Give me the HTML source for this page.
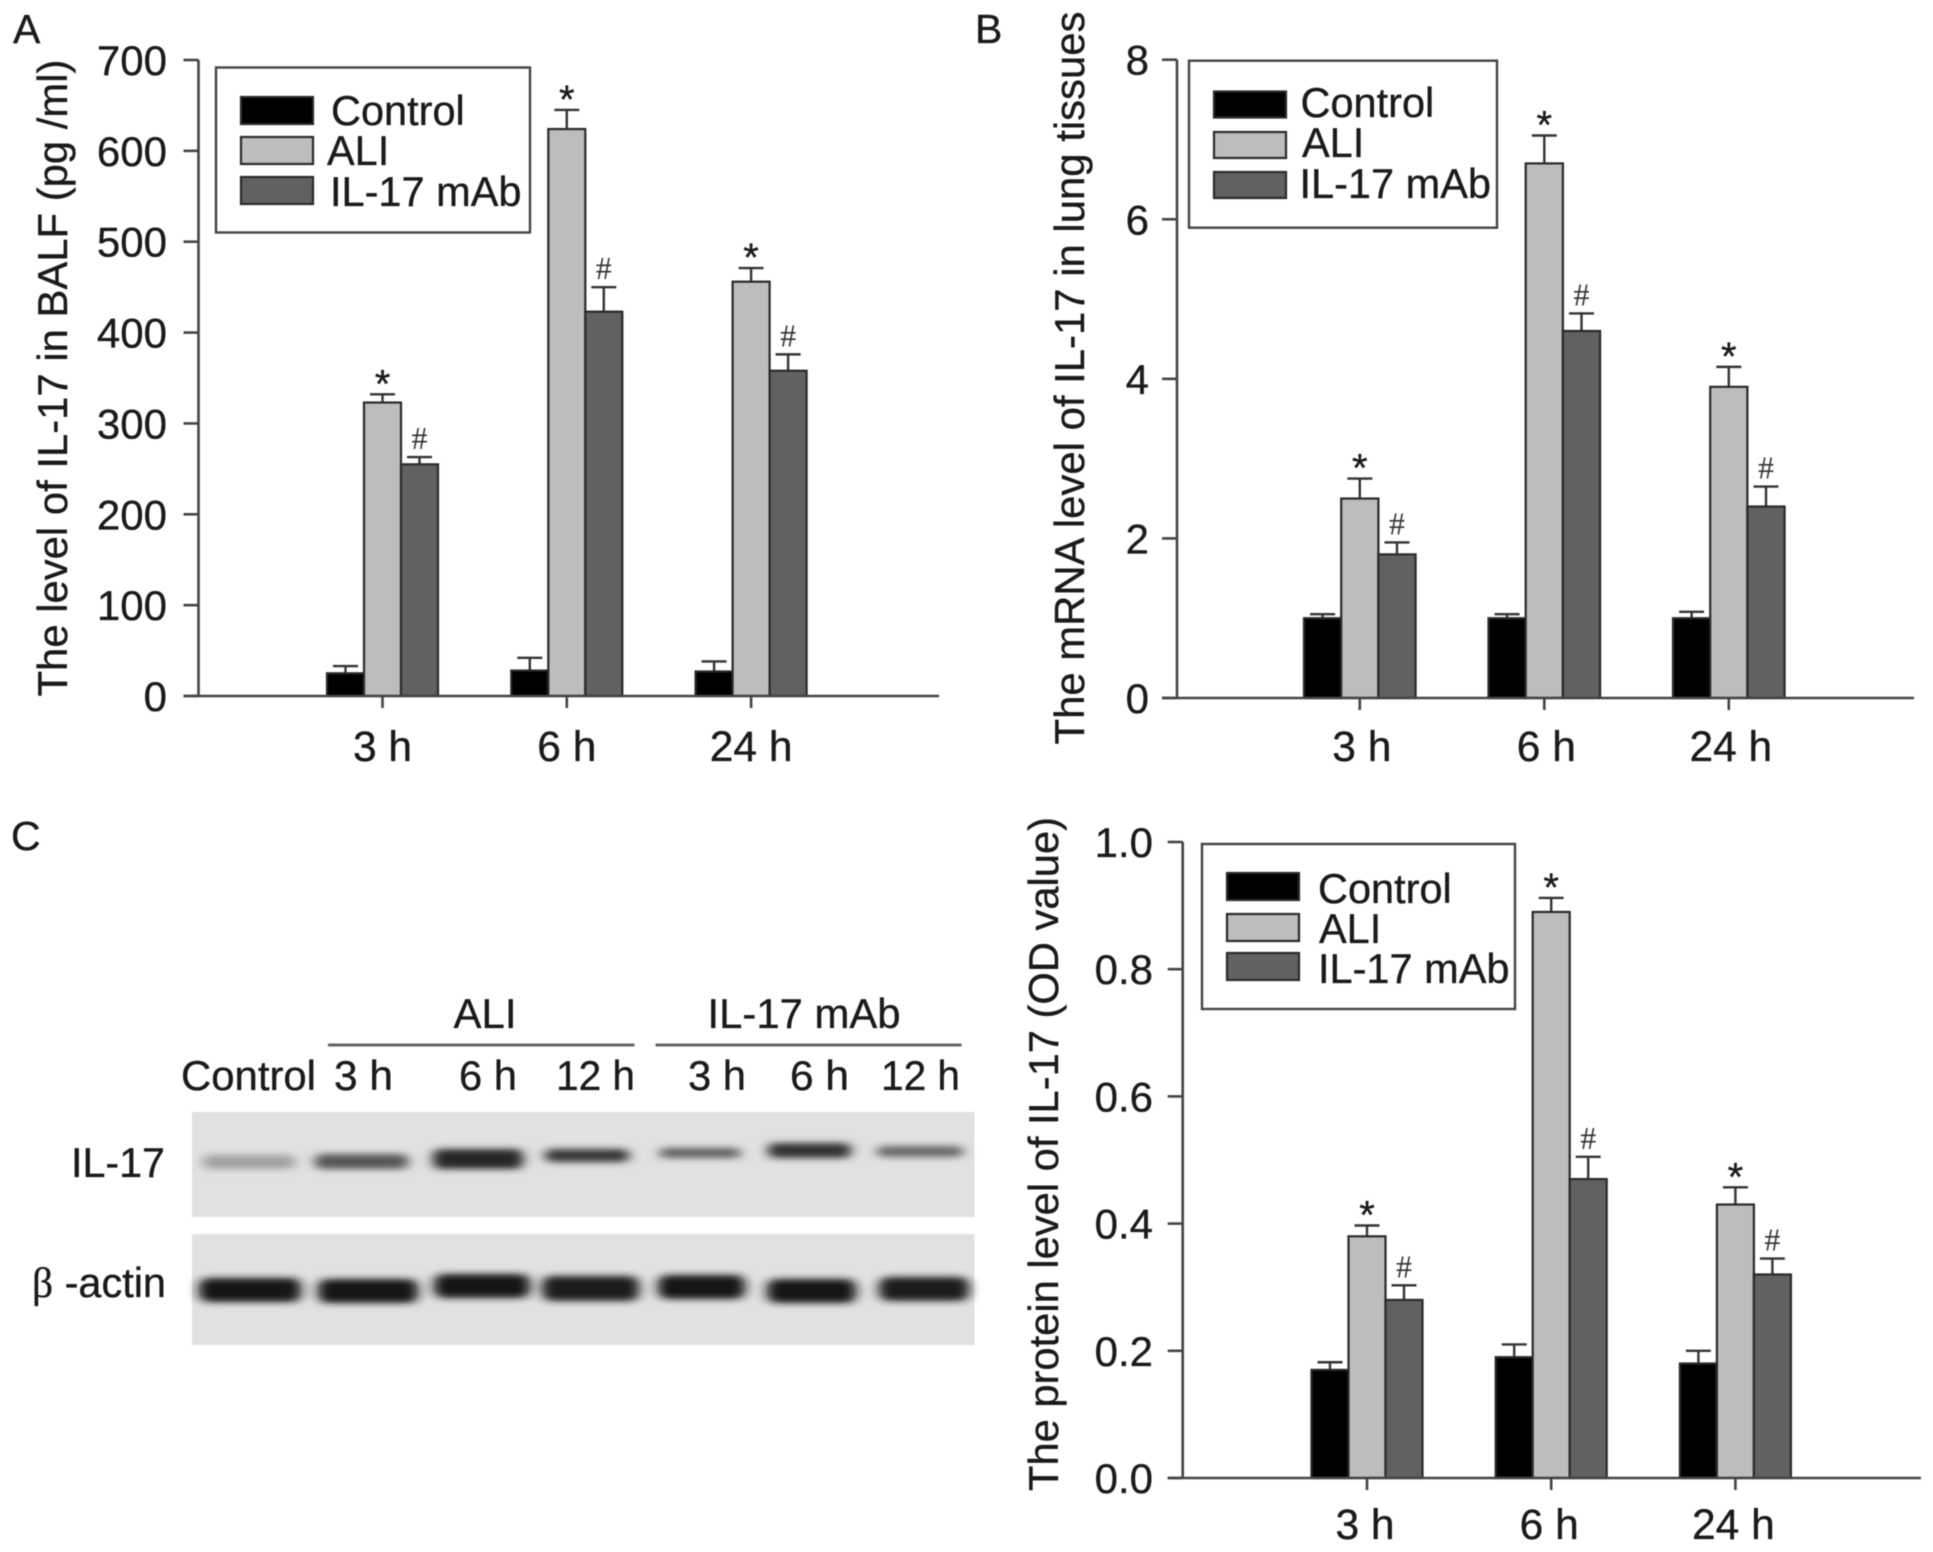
<!DOCTYPE html>
<html lang="en">
<head>
<meta charset="utf-8">
<title>IL-17 levels in BALF, lung mRNA and protein</title>
<style>
html,body{margin:0;padding:0;background:#fff;}
#figure{display:block;width:1933px;height:1552px;filter:blur(0.5px);}
text{font-family:"Liberation Sans",sans-serif;fill:#1a1a1a;stroke:#1a1a1a;stroke-width:0.35px;}
</style>
</head>
<body>
<svg id="figure" xmlns="http://www.w3.org/2000/svg" width="1933" height="1552" viewBox="0 0 1933 1552">
  <defs>
    <filter id="blur-wide" x="-30%" y="-100%" width="160%" height="300%"><feGaussianBlur stdDeviation="6 3.5"/></filter>
  </defs>
  <text x="13" y="43" font-size="41">A</text>
  <text x="975" y="43" font-size="41">B</text>
  <text x="11" y="850" font-size="41">C</text>

  <g>
    <text x="485" y="1028" font-size="42" text-anchor="middle" textLength="63" lengthAdjust="spacingAndGlyphs">ALI</text>
    <text x="804" y="1028" font-size="42" text-anchor="middle" textLength="193" lengthAdjust="spacingAndGlyphs">IL-17 mAb</text>
    <rect x="328" y="1043.5" width="306.500" height="3" fill="#666"/>
    <rect x="655.5" y="1043.500" width="306" height="3" fill="#666"/>
    <text x="181" y="1090" font-size="42" textLength="135" lengthAdjust="spacingAndGlyphs">Control</text>
    <text x="334" y="1090" font-size="42" textLength="59" lengthAdjust="spacingAndGlyphs">3 h</text>
    <text x="459" y="1090" font-size="42" textLength="58" lengthAdjust="spacingAndGlyphs">6 h</text>
    <text x="556" y="1090" font-size="42" textLength="79" lengthAdjust="spacingAndGlyphs">12 h</text>
    <text x="688" y="1090" font-size="42" textLength="58" lengthAdjust="spacingAndGlyphs">3 h</text>
    <text x="790" y="1090" font-size="42" textLength="59" lengthAdjust="spacingAndGlyphs">6 h</text>
    <text x="881" y="1090" font-size="42" textLength="79" lengthAdjust="spacingAndGlyphs">12 h</text>
    <text x="71" y="1177" font-size="42" textLength="94" lengthAdjust="spacingAndGlyphs">IL-17</text>
    <text x="32" y="1297" font-size="42" textLength="134" lengthAdjust="spacingAndGlyphs"><tspan font-family="Liberation Serif, serif">β</tspan> -actin</text>

    <rect x="192" y="1112" width="782.500" height="105" fill="#e1e1e1"/>
    <g filter="url(#blur-wide)">
      <rect x="203" y="1155" width="92" height="14" rx="6" fill="#a0a0a0"/>
      <rect x="315" y="1154" width="93" height="15" rx="6" fill="#555"/>
      <rect x="433" y="1149" width="90" height="20" rx="7" fill="#262626"/>
      <rect x="545" y="1149" width="84" height="13" rx="6" fill="#363636"/>
      <rect x="660" y="1148" width="80" height="10" rx="4" fill="#5e5e5e"/>
      <rect x="768" y="1143" width="83" height="15" rx="6" fill="#323232"/>
      <rect x="877" y="1146" width="86" height="11" rx="5" fill="#666"/>
    </g>
    <rect x="192" y="1234" width="782.500" height="111" fill="#e1e1e1"/>
    <g filter="url(#blur-wide)">
      <rect x="199" y="1278" width="102" height="24" rx="9" fill="#181818"/>
      <rect x="318" y="1279" width="100" height="24" rx="9" fill="#181818"/>
      <rect x="434" y="1274" width="96" height="24" rx="9" fill="#181818"/>
      <rect x="542" y="1276" width="97" height="25" rx="9" fill="#1e1e1e"/>
      <rect x="658" y="1275" width="87" height="24" rx="9" fill="#181818"/>
      <rect x="767" y="1279" width="89" height="24" rx="9" fill="#181818"/>
      <rect x="879" y="1277" width="90" height="24" rx="9" fill="#1e1e1e"/>
    </g>
  </g>
</svg>

<script>
// Shared categories and series
const categories = ['3 h', '6 h', '24 h'];
const seriesNames = ['Control', 'ALI', 'IL-17 mAb'];

// Panel A values: IL-17 in BALF (pg/ml)
const balfTicks = [0, 100, 200, 300, 400, 500, 600, 700];
const balfTickLabels = ['0', '100', '200', '300', '400', '500', '600', '700'];
const balfControl = [25, 28, 27];
const balfAli = [323, 624, 456];
const balfMab = [255, 423, 358];
const balfControlErr = [8, 14, 11];
const balfAliErr = [9, 21, 15];
const balfMabErr = [8, 27, 18];

// Panel B values: IL-17 mRNA level
const mrnaTicks = [0, 2, 4, 6, 8];
const mrnaTickLabels = ['0', '2', '4', '6', '8'];
const mrnaControl = [1, 1, 1];
const mrnaAli = [2.5, 6.7, 3.9];
const mrnaMab = [1.8, 4.6, 2.4];
const mrnaControlErr = [0.05, 0.05, 0.08];
const mrnaAliErr = [0.25, 0.35, 0.25];
const mrnaMabErr = [0.15, 0.22, 0.25];

// Panel C values: IL-17 protein (OD value)
const proteinTicks = [0, 0.2, 0.4, 0.6, 0.8, 1];
const proteinTickLabels = ['0.0', '0.2', '0.4', '0.6', '0.8', '1.0'];
const proteinControl = [0.17, 0.19, 0.18];
const proteinAli = [0.38, 0.89, 0.43];
const proteinMab = [0.28, 0.47, 0.32];
const proteinControlErr = [0.012, 0.02, 0.02];
const proteinAliErr = [0.017, 0.022, 0.027];
const proteinMabErr = [0.023, 0.035, 0.025];

const SVG_NS = 'http://www.w3.org/2000/svg';
const root = document.getElementById('figure');
const fills = ['#000000', '#bdbdbd', '#616161'];
const marks = ['', '*', '#'];

function mk(tag, attrs, parent, txt) {
  const el = document.createElementNS(SVG_NS, tag);
  for (const k in attrs) el.setAttribute(k, attrs[k]);
  if (txt !== undefined) el.textContent = txt;
  parent.appendChild(el);
  return el;
}

function drawPanel(cfg) {
  const g = mk('g', {}, root);
  
  

  const yScale = v => cfg.y0 - (v / cfg.max) * (cfg.y0 - cfg.yTop);
  const xBand = i => cfg.c0 + i * cfg.step;
  const axisStyle = { stroke: '#444', 'stroke-width': 2.6, fill: 'none' };

  // y axis
  const yAxis = mk('line', Object.assign({ x1: cfg.x0, x2: cfg.x0, y1: yScale(cfg.max), y2: cfg.y0 }, axisStyle), g);
  
  
  cfg.ticks.forEach((t, i) => {
    const tick = mk('line', Object.assign({ x1: cfg.x0 - 15, x2: cfg.x0, y1: yScale(t), y2: yScale(t) }, axisStyle), g);
    
    
    const lab = mk('text', { x: cfg.labelRight, y: yScale(t) + 15, 'font-size': 42, 'text-anchor': 'end' }, g, cfg.tickLabels[i]);
    
    
  });

  // bars with error bars and significance marks
  const bw = cfg.barWidth;
  cfg.series.forEach((vals, s) => {
    vals.forEach((v, i) => {
      const x = xBand(i) + (s - 1.5) * bw;
      const top = yScale(v + cfg.errs[s][i]);
      const cx = x + bw / 2;
      const stem = mk('line', { x1: cx, x2: cx, y1: yScale(v), y2: top, stroke: '#333', 'stroke-width': 2.4 }, g);
      
      
      const cap = mk('line', { x1: cx - 12.5, x2: cx + 12.5, y1: top, y2: top, stroke: '#333', 'stroke-width': 2.4 }, g);
      
      
      const bar = mk('rect', { x: x, y: yScale(v), width: bw, height: cfg.y0 - yScale(v), fill: fills[s], stroke: '#2a2a2a', 'stroke-width': 2.2 }, g);
      
      
      if (s === 1) {
        const star = mk('text', { x: cx, y: top + 3, 'font-size': 40, 'text-anchor': 'middle' }, g, marks[s]);
        
        
      }
      if (s === 2) {
        const hash = mk('text', { x: cx, y: top - 8, 'font-size': 32, 'text-anchor': 'middle', style: 'font-family:"Liberation Serif",serif;fill:#333;stroke:none' }, g, marks[s]);
        
        
      }
    });
  });

  // x axis
  const xAxis = mk('line', Object.assign({ x1: cfg.x0 - 15, x2: cfg.xEnd, y1: cfg.y0, y2: cfg.y0 }, axisStyle), g);
  
  
  categories.forEach((c, i) => {
    const tick = mk('line', Object.assign({ x1: xBand(i), x2: xBand(i), y1: cfg.y0, y2: cfg.y0 + 12 }, axisStyle), g);
    
    
    const lab = mk('text', { x: xBand(i) + cfg.labelShift, y: cfg.xLabelY, 'font-size': 42.5, 'text-anchor': 'middle' }, g, c);
    
    
  });

  // axis title
  const title = mk('text', {
    transform: 'translate(' + cfg.titleX + ',' + cfg.titleY + ') rotate(-90)',
    'font-size': 42, 'text-anchor': 'middle', textLength: cfg.titleLen, lengthAdjust: 'spacingAndGlyphs'
  }, g, cfg.title);
  
  

  // legend
  const L = cfg.legend;
  const legend = mk('g', {}, g);
  
  
  const box = mk('rect', { x: L.x, y: L.y, width: L.w, height: L.h, fill: '#fff', stroke: '#444', 'stroke-width': 2.4 }, legend);
  
  
  seriesNames.forEach((n, s) => {
    const sw = mk('rect', { x: L.sx, y: L.sy[s], width: L.sw, height: L.sh, fill: fills[s], stroke: '#2a2a2a', 'stroke-width': 2.2 }, legend);
    
    
    const t = mk('text', { x: L.tx[s], y: L.ty[s], 'font-size': 41.5 }, legend, n);
    
    
  });
}

drawPanel({
  name: 'balf', x0: 198.5, xEnd: 939, y0: 696, yTop: 60, max: 700,
  labelRight: 167, c0: 382.5, step: 184.3, barWidth: 37, xLabelY: 761, labelShift: 0,
  ticks: balfTicks, tickLabels: balfTickLabels,
  series: [balfControl, balfAli, balfMab],
  errs: [balfControlErr, balfAliErr, balfMabErr],
  title: 'The level of IL-17 in BALF (pg /ml)', titleX: 67, titleY: 378, titleLen: 637,
  legend: { x: 216, y: 67.5, w: 314, h: 165, sx: 241, sw: 72, sh: 27, sy: [97, 137, 177], tx: [331, 327, 330], ty: [125, 165, 206] }
});

drawPanel({
  name: 'mrna', x0: 1177, xEnd: 1914, y0: 698, yTop: 59.7, max: 8,
  labelRight: 1149, c0: 1359.8, step: 184.5, barWidth: 37.2, xLabelY: 761, labelShift: 2,
  ticks: mrnaTicks, tickLabels: mrnaTickLabels,
  series: [mrnaControl, mrnaAli, mrnaMab],
  errs: [mrnaControlErr, mrnaAliErr, mrnaMabErr],
  title: 'The mRNA level of IL-17 in lung tissues', titleX: 1084, titleY: 378, titleLen: 733,
  legend: { x: 1189, y: 60.7, w: 308, h: 167, sx: 1214, sw: 72, sh: 26, sy: [91.5, 132, 172], tx: [1300.5, 1302, 1299.5], ty: [117, 157, 198] }
});

drawPanel({
  name: 'protein', x0: 1182.7, xEnd: 1921, y0: 1478, yTop: 842, max: 1,
  labelRight: 1153, c0: 1367, step: 184.2, barWidth: 37, xLabelY: 1539, labelShift: -2,
  ticks: proteinTicks, tickLabels: proteinTickLabels,
  series: [proteinControl, proteinAli, proteinMab],
  errs: [proteinControlErr, proteinAliErr, proteinMabErr],
  title: 'The protein level of IL-17 (OD value)', titleX: 1058, titleY: 1154, titleLen: 674,
  legend: { x: 1202, y: 844, w: 313, h: 165, sx: 1227, sw: 72, sh: 27, sy: [873, 914, 953], tx: [1318, 1319, 1318], ty: [903, 943, 983] }
});
</script>
</body>
</html>
